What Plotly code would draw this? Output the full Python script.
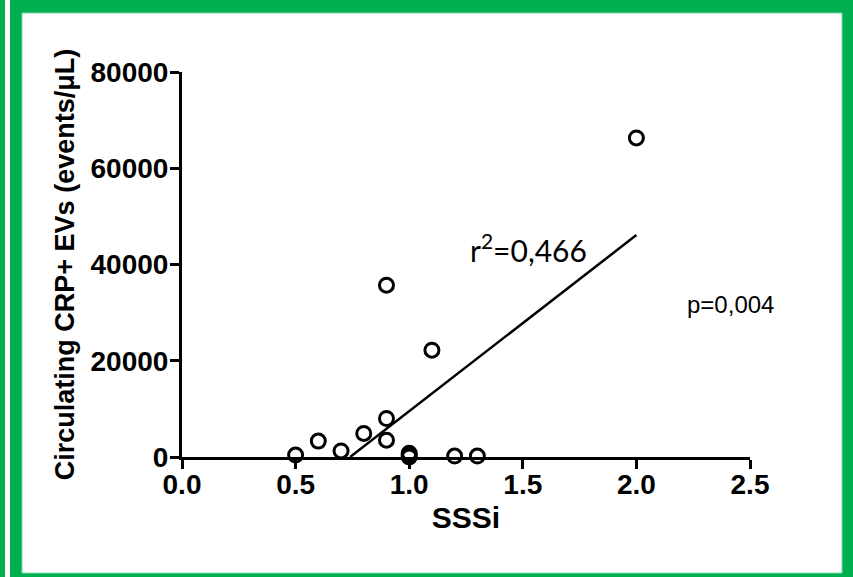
import plotly.graph_objects as go

# SSSi score vs circulating CRP+ extracellular vesicles
sssi = [0.5, 0.6, 0.7, 0.8, 0.9, 0.9, 0.9, 1.0, 1.0, 1.0, 1.1, 1.2, 1.3, 2.0]
crp_evs = [400, 3300, 1250, 4900, 8000, 3500, 35700, 0, 400, 800, 22200, 200, 200, 66300]

# Linear fit shown on the chart
fit_slope = 36600
fit_intercept = -27080
fit_x_end = 2.0

x_ticks = [0.0, 0.5, 1.0, 1.5, 2.0, 2.5]
y_ticks = [0, 20000, 40000, 60000, 80000]

r2_label = "r<sup>2</sup>=0,466"
p_label = "p=0,004"

W, H = 853, 577
ML, MR, MT, MB = 182, 103, 72, 120
PW, PH = W - ML - MR, H - MT - MB


def px(x):
    return (x - ML) / PW


def py(y):
    return (H - MB - y) / PH


fit_x0 = -fit_intercept / fit_slope
fit_xs = [fit_x0, fit_x_end]
fit_ys = [fit_slope * v + fit_intercept for v in fit_xs]

fig = go.Figure()
fig.add_trace(go.Scatter(
    x=fit_xs, y=fit_ys, mode="lines",
    line=dict(color="black", width=2.5),
    hoverinfo="skip", showlegend=False, cliponaxis=False,
))
fig.add_trace(go.Scatter(
    x=sssi, y=crp_evs, mode="markers",
    marker=dict(symbol="circle-open", size=14, color="black",
                line=dict(color="black", width=3)),
    showlegend=False, cliponaxis=False,
))

GREEN = "#00b050"
shapes = [
    # thin strip at the far left
    dict(type="rect", xref="paper", yref="paper", layer="below",
         x0=px(0), x1=px(5), y0=py(H), y1=py(0),
         fillcolor=GREEN, line=dict(width=0)),
    # green frame
    dict(type="rect", xref="paper", yref="paper", layer="below",
         x0=px(10), x1=px(W), y0=py(H), y1=py(0),
         fillcolor=GREEN, line=dict(width=0)),
    # white inner panel
    dict(type="rect", xref="paper", yref="paper", layer="below",
         x0=px(22), x1=px(842), y0=py(573), y1=py(13),
         fillcolor="white", line=dict(color="#7fd7a7", width=1)),
]

fig.update_layout(
    width=W, height=H,
    margin=dict(l=ML, r=MR, t=MT, b=MB, pad=0),
    paper_bgcolor="white", plot_bgcolor="rgba(0,0,0,0)",
    shapes=shapes,
    font=dict(family="Liberation Sans, Arial, sans-serif", color="black"),
    xaxis=dict(
        range=[0, 2.5], tickvals=x_ticks, tickformat=".1f",
        showgrid=False, zeroline=False,
        showline=True, linecolor="black", linewidth=3,
        ticks="outside", ticklen=9, tickwidth=3, tickcolor="black",
        tickfont=dict(size=28, weight="bold"), ticklabelstandoff=-9,
        title=dict(text="SSSi", font=dict(size=30, weight="bold"), standoff=9),
    ),
    yaxis=dict(
        range=[0, 80000], tickvals=y_ticks, tickformat="d",
        showgrid=False, zeroline=False,
        showline=True, linecolor="black", linewidth=3,
        ticks="outside", ticklen=9, tickwidth=3, tickcolor="black",
        tickfont=dict(size=28, weight="bold"), ticklabelstandoff=-4,
        title=dict(text="Circulating CRP+ EVs (events/\u03bcL)",
                   font=dict(size=27, weight="bold"), standoff=9),
    ),
    annotations=[
        dict(x=1.259, y=43400, xref="x", yref="y", text=r2_label,
             showarrow=False, xanchor="left", yanchor="middle",
             font=dict(family="Lato, Open Sans, sans-serif", size=30, color="black")),
        dict(x=2.214, y=31600, xref="x", yref="y", text=p_label,
             showarrow=False, xanchor="left", yanchor="middle",
             font=dict(family="Liberation Sans, Arial, sans-serif", size=24, color="black")),
    ],
)

fig.write_html("out.html")
